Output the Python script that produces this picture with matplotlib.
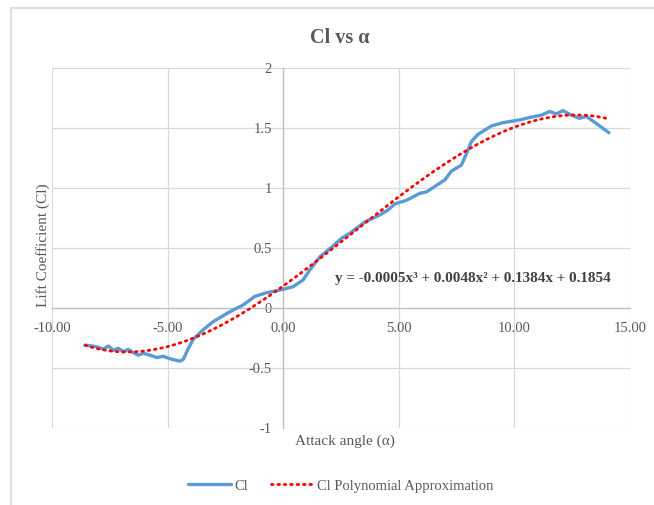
import numpy as np
import matplotlib
matplotlib.use("Agg")
import matplotlib.pyplot as plt
from matplotlib.lines import Line2D

plt.rcParams['font.family'] = ['Liberation Serif', 'DejaVu Serif']

# Lift coefficient vs angle of attack
alpha = [-8.57, -8.07, -7.78, -7.56, -7.35, -7.13, -6.91, -6.70, -6.48, -6.27,
         -6.05, -5.83, -5.47, -5.19, -4.82, -4.46, -4.32, -4.10, -3.89, -3.50,
         -3.02, -2.30, -1.73, -1.22, -0.72, -0.14, 0.43, 0.86, 1.15, 1.59,
         2.10, 2.52, 2.88, 3.53, 4.18, 4.54, 4.83, 5.33, 5.91, 6.20,
         6.99, 7.28, 7.71, 7.93, 8.14, 8.43, 9.01, 9.51, 10.23, 10.66,
         11.17, 11.53, 11.81, 12.10, 12.46, 12.82, 13.11, 13.54, 14.09]
cl = [-0.306, -0.320, -0.340, -0.314, -0.350, -0.333, -0.362, -0.342, -0.370, -0.390,
      -0.375, -0.386, -0.410, -0.400, -0.425, -0.440, -0.425, -0.333, -0.258, -0.185,
      -0.110, -0.028, 0.028, 0.100, 0.130, 0.152, 0.180, 0.236, 0.320, 0.430,
      0.510, 0.583, 0.625, 0.720, 0.778, 0.820, 0.870, 0.900, 0.958, 0.970,
      1.070, 1.144, 1.194, 1.290, 1.390, 1.450, 1.520, 1.547, 1.570, 1.590,
      1.610, 1.640, 1.620, 1.647, 1.610, 1.583, 1.600, 1.540, 1.463]

# Cubic trend coefficients (highest power first)
poly_coef = [-0.00054, 0.0048, 0.1384, 0.1854]

x_ticks = [-10, -5, 0, 5, 10, 15]
y_ticks = [-1, -0.5, 0, 0.5, 1, 1.5, 2]
y_tick_labels = ['-1', '-0.5', '0', '0.5', '1', '1.5', '2']

grey_text = '#595959'
grid_col = '#D9D9D9'

fig = plt.figure(figsize=(6.54, 5.05), dpi=100)
ax = fig.add_axes([52/654, 1 - 428.3/505, 578/654, 360/505])

ax.plot(alpha, cl, color='#5B9BD5', lw=2.4, solid_capstyle='round',
        solid_joinstyle='round', label='Cl', zorder=3)

xs = np.linspace(min(alpha), max(alpha), 300)
ax.plot(xs, np.polyval(poly_coef, xs), color='#FF0000', lw=2.0,
        linestyle=(0, (0.6, 1.7)), dash_capstyle='round',
        label='Cl Polynomial Approximation', zorder=4)

ax.set_xlim(-10, 15)
ax.set_ylim(-1, 2)
ax.set_xticks(x_ticks)
ax.set_xticklabels([f'{v:.2f}' for v in x_ticks])
ax.set_yticks(y_ticks)
ax.set_yticklabels(y_tick_labels)
ax.grid(True, color=grid_col, lw=0.9)
ax.set_axisbelow(True)

for s in ['top', 'right']:
    ax.spines[s].set_visible(False)
ax.spines['left'].set_position(('data', 0))
ax.spines['bottom'].set_position(('data', 0))
for s in ['left', 'bottom']:
    ax.spines[s].set_color('#BFBFBF')
    ax.spines[s].set_linewidth(0.9)
ax.tick_params(axis='both', length=0, labelsize=10.5, labelcolor=grey_text)
ax.tick_params(axis='x', pad=10)
ax.tick_params(axis='y', pad=8)

ax.set_xlabel('Attack angle (α)', fontsize=11, color=grey_text)
ax.xaxis.set_label_coords(0.507, -0.017)
ax.set_ylabel('Lift Coefficient (Cl)', fontsize=11, color=grey_text)
ax.yaxis.set_label_coords(-0.004, 0.51)

c3, c2, c1, c0 = poly_coef
eq = f'y = {c3:.4f}x³ + {c2:.4f}x² + {c1:.4f}x + {c0:.4f}'
ax.text(2.23, 0.25, eq, fontsize=10.9, fontweight='bold', color='#404040',
        ha='left', va='center')

fig.text(340/654, 1 - 38/505, 'Cl vs α', fontsize=14.5, fontweight='bold',
         color=grey_text, ha='center', va='center')

fig.legend(loc='center', bbox_to_anchor=(341/654, 1 - 486/505), ncol=2,
           frameon=False, fontsize=10.5, labelcolor=grey_text,
           handlelength=2.9, columnspacing=1.6, handletextpad=0.25)

# Chart area border
fig.add_artist(Line2D([11/654, 11/654, 1.0], [0.0, 1 - 7.5/505, 1 - 7.5/505],
                      transform=fig.transFigure, color=grid_col, lw=1.2))

fig.savefig('out.png', dpi=100)
